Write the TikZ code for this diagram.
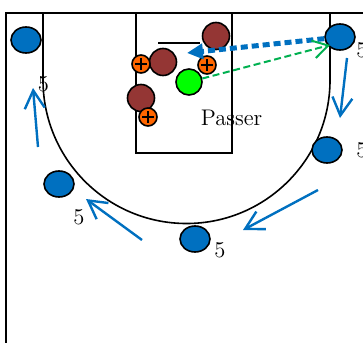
\documentclass[tikz,border=0pt]{standalone}
\usetikzlibrary{shapes.geometric,arrows.meta}
\definecolor{playblue}{RGB}{0,112,192}
\definecolor{defred}{RGB}{148,54,52}
\definecolor{screenorange}{RGB}{255,102,0}
\definecolor{passgreen}{RGB}{0,176,80}
\definecolor{ballgreen}{RGB}{0,255,0}

\begin{document}
\begin{tikzpicture}[x=0.5pt, y=-0.5pt, line width=0.8pt,
  every node/.style={font=\fontsize{11.3}{13}\selectfont},
  offense/.style={ellipse, draw, fill=playblue, minimum width=15pt, minimum height=13pt, inner sep=0pt},
  defense/.style={circle, draw, fill=defred, minimum size=13.5pt, inner sep=0pt},
  screener/.style={circle, draw, fill=screenorange, minimum size=9pt, inner sep=0pt,
    path picture={\draw[line width=1pt]
      ([yshift=3pt]path picture bounding box.center) -- ([yshift=-3pt]path picture bounding box.center)
      ([xshift=-3pt]path picture bounding box.center) -- ([xshift=3pt]path picture bounding box.center);}},
  ballman/.style={circle, draw, fill=ballgreen, minimum size=13pt, inner sep=0pt},
  cut/.style={draw=playblue, line width=1.2pt, -{Straight Barb[length=9pt,width=10pt]}},
  dribble/.style={draw=playblue, line width=2.5pt, dash pattern=on 3.5pt off 2pt, -{Triangle[length=8pt,width=7.5pt]}},
  pass/.style={draw=passgreen, line width=1pt, dash pattern=on 3.5pt off 1.8pt, -{Straight Barb[length=7.5pt,width=9pt]}}]
  \useasboundingbox (0,0) rectangle (363,342);

  % court
  \draw (6,350) -- (6,13) -- (370,13);
  \draw (136,13) rectangle (232,153);
  \draw (43,13) -- (43,80) arc[start angle=180, end angle=360, radius=71.75pt];
  \draw (330,13) -- (330,82);
  \draw (158,43) -- (200,43);

  % players
  \node[offense] (topl) at (26,40) {};
  \node[offense] (topr) at (340,37) {};
  \node[offense] (wingr) at (327,150) {};
  \node[offense] (wingl) at (59,184) {};
  \node[offense] (point) at (195,239) {};

  \node[defense] (d1) at (216,36) {};
  \node[defense] (d2) at (163,62) {};
  \node[defense] (d3) at (141,98) {};

  \node[screener] (s1) at (141,64) {};
  \node[screener] (s2) at (207,65) {};
  \node[screener] (s3) at (148,117) {};

  \node[ballman] (ball) at (189,82) {};

  \node (n1) at (43.5,84) {5};
  \node (n2) at (362,50) {5};
  \node (n3) at (362,150) {5};
  \node (n4) at (79,217) {5};
  \node (n5) at (220,250) {5};
  \node (passer) at (231.5,117.5) {Passer};

  % movement
  \coordinate (c1s) at (38,147);
  \coordinate (c1e) at (33,88);
  \coordinate (c2s) at (347,58);
  \coordinate (c2e) at (340,118);
  \coordinate (c3s) at (318,190);
  \coordinate (c3e) at (243,230);
  \coordinate (c4s) at (142,240);
  \coordinate (c4e) at (86,199);
  \coordinate (drive) at (187,53);
  \coordinate (target) at (330,45);

  \draw[cut] (c1s) -- (c1e);
  \draw[cut] (c2s) -- (c2e);
  \draw[cut] (c3s) -- (c3e);
  \draw[cut] (c4s) -- (c4e);
  \draw[dribble] (topr) -- (drive);
  \draw[pass] (ball) -- (target);
\end{tikzpicture}
\end{document}
